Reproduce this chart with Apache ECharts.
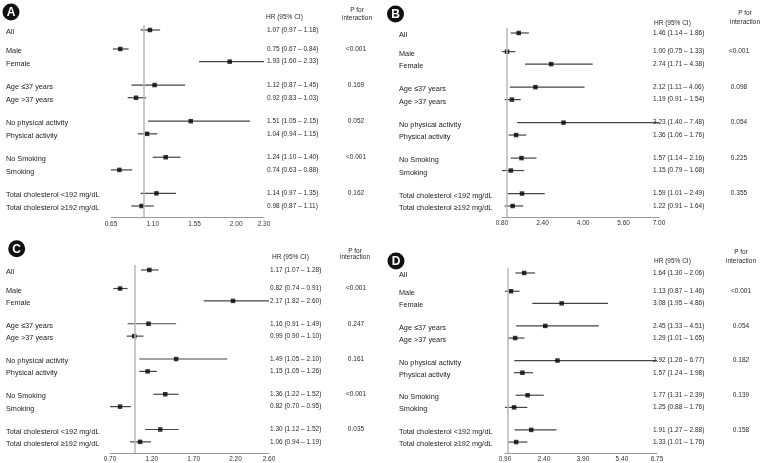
<!DOCTYPE html>
<html><head><meta charset="utf-8">
<script src="https://cdn.jsdelivr.net/npm/echarts@6/dist/echarts.min.js"></script>
<style>html,body{margin:0;padding:0;background:#fff}#c{width:762px;height:463px}</style>
</head><body><div id="c"></div>
<script>
// ---- data ----
const rowLabels = ['All','Male','Female','Age \u226437 years','Age >37 years','No physical activity','Physical activity','No Smoking','Smoking','Total cholesterol <192 mg/dL','Total cholesterol \u2265192 mg/dL'];
const rowGroups = [0,1,1,2,2,3,3,4,4,5,5];

const hrA   = [1.07,0.75,1.93,1.12,0.92,1.51,1.04,1.24,0.74,1.14,0.98];
const lowA  = [0.97,0.67,1.60,0.87,0.83,1.05,0.94,1.10,0.63,0.97,0.87];
const highA = [1.18,0.84,2.33,1.45,1.03,2.15,1.15,1.40,0.88,1.35,1.11];
const pA    = ['<0.001','0.169','0.052','<0.001','0.162'];
const ticksA = [0.65,1.10,1.55,2.00,2.30];

const hrB   = [1.46,1.00,2.74,2.12,1.19,3.23,1.36,1.57,1.15,1.59,1.22];
const lowB  = [1.14,0.75,1.71,1.11,0.91,1.40,1.06,1.14,0.79,1.01,0.91];
const highB = [1.86,1.33,4.38,4.06,1.54,7.48,1.76,2.16,1.68,2.49,1.64];
const pB    = ['<0.001','0.098','0.054','0.225','0.355'];
const ticksB = [0.80,2.40,4.00,5.60,7.00];

const hrC   = [1.17,0.82,2.17,1.16,0.99,1.49,1.15,1.36,0.82,1.30,1.06];
const lowC  = [1.07,0.74,1.82,0.91,0.90,1.05,1.05,1.22,0.70,1.12,0.94];
const highC = [1.28,0.91,2.60,1.49,1.10,2.10,1.26,1.52,0.95,1.52,1.19];
const pC    = ['<0.001','0.247','0.161','<0.001','0.035'];
const ticksC = [0.70,1.20,1.70,2.20,2.60];

const hrD   = [1.64,1.13,3.08,2.45,1.29,2.92,1.57,1.77,1.25,1.91,1.33];
const lowD  = [1.30,0.87,1.95,1.33,1.01,1.26,1.24,1.31,0.88,1.27,1.01];
const highD = [2.06,1.46,4.86,4.51,1.65,6.77,1.98,2.39,1.76,2.88,1.76];
const pD    = ['<0.001','0.054','0.182','0.139','0.158'];
const ticksD = [0.90,2.40,3.90,5.40,6.75];

const refValue = 1;
const hrHeader = 'HR (95% CI)';
const pHeader1 = 'P for';
const pHeader2 = 'interaction';

// ---- layout ----
const FONT = '"Liberation Sans", Arial, sans-serif';
const TXT = '#2a2a2a';
function slotOf(i){ const g = rowGroups[i]; return i + 0.85*g - (g>0 ? 0.35 : 0); }
const Y_MIN = -0.4, Y_MAX = 14.8;

const panels = [
  {letter:'A', hr:hrA, low:lowA, high:highA, p:pA, ticks:ticksA,
   left:111, right:264, yAll:30, yLast:206, labelX:6, hrX:267, pX:356, pHX:357, hdrX:266, hdrY:17, pForY:10.5, interY:18, circ:[11,12]},
  {letter:'B', hr:hrB, low:lowB, high:highB, p:pB, ticks:ticksB,
   left:502, right:659, yAll:33, yLast:206, labelX:399, hrX:653, pX:739, pHX:745, hdrX:654, hdrY:23, pForY:13, interY:22.5, circ:[395.5,14]},
  {letter:'C', hr:hrC, low:lowC, high:highC, p:pC, ticks:ticksC,
   left:110, right:269, yAll:270, yLast:443, labelX:6, hrX:270, pX:356, pHX:355, hdrX:272, hdrY:257, pForY:251, interY:257.5, circ:[16.7,248.7]},
  {letter:'D', hr:hrD, low:lowD, high:highD, p:pD, ticks:ticksD,
   left:505, right:657, yAll:273, yLast:443, labelX:399, hrX:653, pX:741, pHX:741, hdrX:654, hdrY:261, pForY:252, interY:261.5, circ:[396,261]}
];

const grid = [], xAxis = [], yAxis = [], series = [], graphic = [];

panels.forEach((P, k) => {
  const u = (P.yLast - P.yAll) / slotOf(rowLabels.length - 1);
  grid.push({left: P.left, width: P.right - P.left, top: P.yAll + Y_MIN*u, height: (Y_MAX - Y_MIN)*u, containLabel: false});
  xAxis.push({
    type: 'value', gridIndex: k, min: P.ticks[0], max: P.ticks[P.ticks.length-1],
    axisLine: {show: true, onZero: false, lineStyle: {color: '#9a9a9a', width: 1}},
    axisTick: {show: false},
    splitLine: {show: false},
    axisLabel: {customValues: P.ticks, formatter: v => v.toFixed(2), fontSize: 6.5, color: '#333', fontFamily: FONT, margin: 3,
                showMinLabel: true, showMaxLabel: true, hideOverlap: false}
  });
  yAxis.push({type: 'value', gridIndex: k, inverse: true, min: Y_MIN, max: Y_MAX, show: false});

  // CI lines
  series.push({
    type: 'custom', xAxisIndex: k, yAxisIndex: k, z: 2, silent: true,
    data: P.low.map((l, i) => [l, P.high[i], slotOf(i)]),
    encode: {x: [0, 1], y: 2},
    renderItem: (params, api) => {
      const cs = params.coordSys;
      const a = api.coord([api.value(0), api.value(2)]);
      const b = api.coord([api.value(1), api.value(2)]);
      const x1 = Math.max(cs.x, a[0]), x2 = Math.min(cs.x + cs.width, b[0]);
      return {type: 'line', shape: {x1: x1, y1: a[1], x2: x2, y2: a[1]}, style: {stroke: '#444', lineWidth: 1.2}};
    }
  });
  // point estimates + reference line
  series.push({
    type: 'scatter', xAxisIndex: k, yAxisIndex: k, z: 3, silent: true,
    symbol: 'rect', symbolSize: 4.5, itemStyle: {color: '#000'},
    data: P.hr.map((v, i) => [v, slotOf(i)]),
    markLine: {silent: true, symbol: 'none', label: {show: false}, animation: false,
               lineStyle: {color: '#b8b8b8', width: 1.5, type: 'solid'}, data: [{xAxis: refValue}]}
  });
  // texts per row
  series.push({
    type: 'custom', xAxisIndex: k, yAxisIndex: k, z: 4, silent: true,
    data: rowLabels.map((t, i) => [P.ticks[0], slotOf(i), i]),
    encode: {x: 0, y: 1},
    renderItem: (params, api) => {
      const i = api.value(2);
      const y = api.coord([P.ticks[0], api.value(1)])[1];
      const children = [
        {type: 'text', x: P.labelX, y: y + 2, style: {text: rowLabels[i], fill: '#222', fontSize: 7.3, fontFamily: FONT, align: 'left', verticalAlign: 'middle'}},
        {type: 'text', x: P.hrX, y: y, style: {text: P.hr[i].toFixed(2) + ' (' + P.low[i].toFixed(2) + ' \u2013 ' + P.high[i].toFixed(2) + ')', fill: TXT, fontSize: 6.5, fontFamily: FONT, align: 'left', verticalAlign: 'middle'}}
      ];
      const g = rowGroups[i];
      if (g > 0 && (i === 0 || rowGroups[i-1] !== g)) {
        children.push({type: 'text', x: P.pX, y: y, style: {text: P.p[g-1], fill: TXT, fontSize: 6.5, fontFamily: FONT, align: 'center', verticalAlign: 'middle'}});
      }
      return {type: 'group', children: children};
    }
  });

  // headers & panel letters
  graphic.push({type: 'text', x: P.hdrX, y: P.hdrY, style: {text: hrHeader, fill: TXT, fontSize: 6.5, fontFamily: FONT, align: 'left', verticalAlign: 'middle'}});
  graphic.push({type: 'text', x: P.pHX, y: P.pForY, style: {text: pHeader1, fill: TXT, fontSize: 6.5, fontFamily: FONT, align: 'center', verticalAlign: 'middle'}});
  graphic.push({type: 'text', x: P.pHX, y: P.interY, style: {text: pHeader2, fill: TXT, fontSize: 6.5, fontFamily: FONT, align: 'center', verticalAlign: 'middle'}});
  graphic.push({type: 'circle', shape: {cx: P.circ[0], cy: P.circ[1], r: 8.5}, style: {fill: '#111'}});
  graphic.push({type: 'text', x: P.circ[0], y: P.circ[1] + 0.5, style: {text: P.letter, fill: '#fff', fontSize: 12, fontWeight: 'bold', fontFamily: FONT, align: 'center', verticalAlign: 'middle'}});
});

const chart = echarts.init(document.getElementById('c'), null, {renderer: 'canvas'});
chart.setOption({
  animation: false,
  backgroundColor: '#fff',
  grid: grid, xAxis: xAxis, yAxis: yAxis, series: series, graphic: graphic
});
</script></body></html>
